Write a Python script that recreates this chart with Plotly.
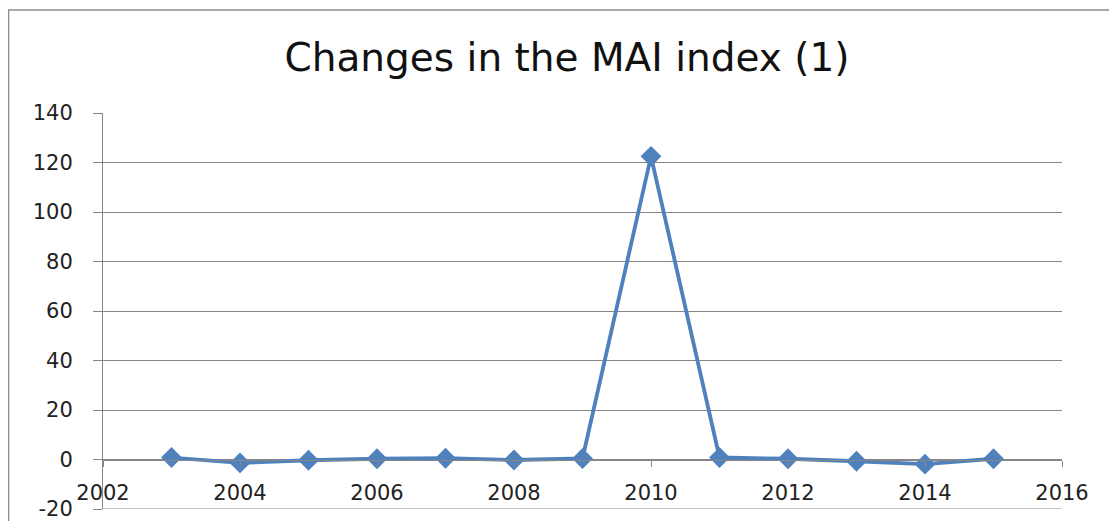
import plotly.graph_objects as go

# Data
years = [2003, 2004, 2005, 2006, 2007, 2008, 2009, 2010, 2011, 2012, 2013, 2014, 2015]
mai_change = [0.8, -1.4, -0.3, 0.3, 0.5, -0.2, 0.4, 122.5, 0.8, 0.3, -0.7, -1.9, 0.3]

y_ticks = [-20, 0, 20, 40, 60, 80, 100, 120, 140]
x_ticks = [2002, 2004, 2006, 2008, 2010, 2012, 2014, 2016]

# the page body has an 8px margin, so the figure starts at (8, 8) on screen
OFF = 8
W, H = 1117 - 2 * OFF, 529 - 2 * OFF
L, T = 103 - OFF, 113 - OFF
R = W - (1062 - OFF)
B = H - (509 - OFF)
pw, ph = W - L - R, H - T - B

blue = "#4F81BD"
grey = "#868686"
font = "DejaVu Sans"

fig = go.Figure()
fig.add_trace(
    go.Scatter(
        x=years,
        y=mai_change,
        mode="lines+markers",
        line=dict(color=blue, width=3.8),
        marker=dict(symbol="diamond", size=16, color=blue),
        showlegend=False,
    )
)

# zero crossing position of the x axis inside the plot area
x_axis_pos = (0 - y_ticks[0]) / (y_ticks[-1] - y_ticks[0])

fig.update_layout(
    width=W,
    height=H,
    margin=dict(l=L, r=R, t=T, b=B),
    paper_bgcolor="white",
    plot_bgcolor="white",
    title=dict(
        text="Changes in the MAI index (1)",
        x=(567 - OFF) / W,
        xanchor="center",
        y=1 - (57 - OFF) / H,
        yanchor="middle",
        font=dict(family=font, size=39, color="#111111"),
    ),
    xaxis=dict(
        range=[2002, 2016],
        tickvals=x_ticks,
        ticktext=[str(v) for v in x_ticks],
        anchor="free",
        position=x_axis_pos,
        automargin=False,
        showgrid=False,
        zeroline=False,
        showline=True,
        linecolor=grey,
        linewidth=1,
        ticks="outside",
        ticklen=6,
        tickcolor=grey,
        ticklabelstandoff=8,
        ticklabeloverflow="allow",
        tickfont=dict(family=font, size=21, color="#222222"),
    ),
    yaxis=dict(
        range=[-20, 140],
        tickvals=y_ticks,
        ticktext=[str(v) for v in y_ticks],
        automargin=False,
        showgrid=True,
        gridcolor=grey,
        gridwidth=1,
        zeroline=False,
        showline=True,
        linecolor=grey,
        linewidth=1,
        ticks="outside",
        ticklen=9,
        tickcolor=grey,
        ticklabelstandoff=16,
        ticklabeloverflow="allow",
        tickfont=dict(family=font, size=21, color="#222222"),
    ),
    shapes=[
        dict(
            type="rect",
            xref="paper",
            yref="paper",
            x0=(0.5 - L) / pw,
            x1=(W + 20 - L) / pw,
            y0=-(B + 20) / ph,
            y1=(H - B - 2) / ph,
            line=dict(color="#8c8c8c", width=1.5),
            layer="below",
        ),
        # bottom gridline, which plotly leaves out at the range edge
        dict(
            type="line",
            xref="paper",
            yref="y",
            x0=0,
            x1=1,
            y0=y_ticks[0],
            y1=y_ticks[0],
            line=dict(color=grey, width=1),
            layer="below",
        ),
    ],
)

fig.write_html("out.html")
